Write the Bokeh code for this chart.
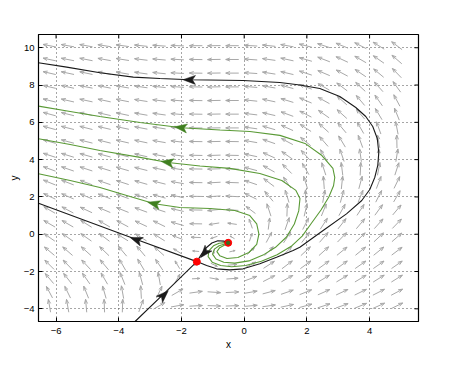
import numpy as np
from bokeh.plotting import figure
from bokeh.models import FixedTicker
from bokeh.embed import file_html
from bokeh.resources import INLINE

# ---------------- data ----------------
x_ticks = [-6, -4, -2, 0, 2, 4]
y_ticks = [-4, -2, 0, 2, 4, 6, 8, 10]

eq_x = [-1.51, -0.51]
eq_y = [-1.47, -0.46]

stable_low_x = [-3.48, -2.50, -1.51]
stable_low_y = [-4.68, -3.09, -1.47]

stable_up_x = [-0.51, -0.65, -0.84, -1.03, -1.20, -1.35, -1.51]
stable_up_y = [-0.46, -0.37, -0.35, -0.47, -0.71, -1.04, -1.47]

unstable_left_x = [-1.51, -3.50, -6.56]
unstable_left_y = [-1.47, -0.24, 1.66]

unstable_right_x = [-1.507, -1.198, -0.880, -0.456, -0.032, 0.500, 1.033, 1.561, 1.775, 2.518,
                    3.263, 3.751, 4.006, 4.165, 4.261, 4.293, 4.245, 4.101, 3.878, 3.560,
                    3.050, 2.412, 1.775, 1.138, -0.032, -1.730, -2.686, -3.537, -4.599,
                    -5.660, -6.565]
unstable_right_y = [-1.465, -1.679, -1.856, -1.910, -1.856, -1.588, -1.234, -0.874, -0.697, 0.198,
                    1.094, 1.808, 2.398, 3.042, 3.686, 4.383, 5.134, 5.778, 6.314, 6.797,
                    7.388, 7.817, 8.004, 8.138, 8.246, 8.283, 8.353, 8.423, 8.659,
                    8.959, 9.195]

g1_x = [-6.56, -5.55, -4.60, -3.32, -2.00, -0.77, 0.18, 1.14, 1.94, 2.48, 2.83, 2.89,
        2.85, 2.70, 2.45, 2.15, 1.85, 1.50, 1.05, 0.55, 0.05, -0.40, -0.75, -1.02,
        -1.15, -1.12, -0.98, -0.80, -0.62, -0.51]
g1_y = [6.87, 6.58, 6.31, 5.99, 5.71, 5.59, 5.51, 5.30, 4.87, 4.22, 3.53, 3.04,
        2.60, 2.00, 1.30, 0.60, -0.10, -0.65, -1.10, -1.45, -1.68, -1.74, -1.68, -1.50,
        -1.20, -0.88, -0.62, -0.48, -0.45, -0.46]
g2_x = [-6.56, -5.55, -4.60, -3.32, -2.43, -1.41, -0.46, 0.50, 1.20, 1.65, 1.78, 1.74,
        1.60, 1.35, 1.00, 0.60, 0.15, -0.30, -0.65, -0.90, -1.01, -0.95, -0.80, -0.62, -0.51]
g2_y = [5.12, 4.81, 4.49, 4.12, 3.85, 3.66, 3.53, 3.26, 2.88, 2.35, 1.92, 1.25,
        0.55, -0.15, -0.70, -1.12, -1.43, -1.55, -1.50, -1.33, -1.07, -0.80, -0.62, -0.52, -0.46]
g3_x = [-6.56, -5.55, -4.60, -3.64, -2.86, -2.05, -1.09, -0.30, 0.18, 0.40, 0.47, 0.40,
        0.15, -0.20, -0.55, -0.78, -0.87, -0.78, -0.62, -0.51]
g3_y = [3.24, 2.88, 2.51, 2.02, 1.63, 1.43, 1.38, 1.27, 1.00, 0.55, 0.00, -0.55,
        -0.98, -1.25, -1.30, -1.15, -0.93, -0.72, -0.58, -0.46]

# trajectory arrow marks: position and direction (data units)
black_arrow_x = [-2.58, -1.25, -3.43, -1.73]
black_arrow_y = [-3.29, -0.97, -0.30, 8.28]
black_arrow_dx = [1.0, -0.5, -1.0, -1.0]
black_arrow_dy = [1.65, -1.0, 0.62, 0.02]
green_arrow_x = [-2.00, -2.43, -2.86]
green_arrow_y = [5.71, 3.85, 1.63]
green_arrow_dx = [-1.0, -1.0, -1.0]
green_arrow_dy = [0.22, 0.26, 0.40]

# direction field: arrow centres and the direction (degrees) read at each one
field_x = [-6.21, -5.63, -5.04, -4.46, -3.88, -3.29, -2.71, -2.13, -1.54, -0.96,
           -0.38, 0.21, 0.79, 1.37, 1.96, 2.54, 3.12, 3.71, 4.29, 4.87]
field_y = [-3.84, -3.11, -2.38, -1.64, -0.91, -0.17, 0.56, 1.30, 2.03, 2.77,
           3.50, 4.23, 4.97, 5.70, 6.44, 7.17, 7.90, 8.64, 9.37, 10.11]
field_angle_deg = [  # one row per field_y value, bottom to top
    [100, 100, 95, 92, 88, 70, 30, 10, 3, -2, 2, 5, 8, 12, 15, 18, 20, 22, 24, 26],
    [118, 116, 112, 106, 100, 93, 65, 30, 8, -4, 3, 10, 15, 19, 22, 24, 25, 26, 27, 28],
    [130, 128, 125, 120, 112, 105, 100, 60, 3, -10, 4, 20, 27, 29, 30, 31, 31, 31, 32, 32],
    [135, 134, 133, 130, 120, 121, 124, 121, 17, -25, 5, 28, 33, 37, 36, 36, 36, 35, 35, 35],
    [140, 139, 138, 136, 130, 130, 138, 148, 175, 260, 14, 43, 46, 46, 43, 42, 39, 39, 39, 37],
    [145, 145, 145, 143, 148, 148, 148, 159, 178, 198, 150, 71, 62, 57, 53, 49, 46, 44, 43, 41],
    [150, 150, 148, 150, 152, 155, 154, 164, 179, 189, 172, 109, 83, 71, 63, 57, 52, 50, 48, 46],
    [150, 152, 155, 157, 158, 160, 162, 167, 179, 186, 176, 143, 108, 88, 77, 68, 61, 57, 54, 50],
    [155, 157, 158, 159, 160, 162, 164, 168, 179, 184, 177, 154, 130, 107, 91, 80, 75, 68, 63, 60],
    [158, 159, 160, 161, 162, 164, 166, 170, 179, 183, 178, 161, 143, 124, 107, 94, 84, 75, 69, 64],
    [160, 161, 162, 163, 164, 166, 168, 171, 179, 182, 178, 165, 151, 135, 120, 108, 97, 87, 79, 72],
    [162, 163, 164, 165, 166, 167, 169, 172, 179, 182, 179, 168, 156, 145, 132, 120, 109, 98, 89, 81],
    [164, 165, 166, 166, 167, 168, 170, 173, 179, 181, 179, 170, 161, 152, 141, 131, 121, 110, 100, 91],
    [165, 166, 166, 167, 168, 169, 171, 174, 179, 181, 180, 172, 164, 156, 147, 138, 130, 120, 110, 101],
    [165, 166, 167, 167, 168, 170, 172, 175, 179, 181, 180, 173, 167, 160, 153, 145, 138, 130, 121, 112],
    [166, 167, 168, 168, 169, 171, 173, 176, 179, 181, 180, 174, 168, 163, 157, 151, 138, 130, 125, 118],
    [167, 168, 169, 169, 170, 172, 174, 176, 179, 181, 180, 175, 170, 165, 160, 150, 143, 137, 132, 126],
    [167, 168, 168, 169, 170, 172, 174, 177, 179, 181, 180, 176, 171, 167, 162, 157, 152, 146, 140, 134],
    [168, 169, 169, 170, 171, 173, 175, 177, 179, 181, 180, 176, 172, 168, 164, 159, 155, 150, 145, 139],
    [169, 170, 170, 171, 172, 174, 176, 178, 180, 181, 180, 177, 174, 170, 166, 162, 158, 153, 148, 143],
]
# relative arrow length (1 = full); shorter arrows near the two equilibria
field_rel_length = [
    [1] * 20,
    [1] * 20,
    [1, 1, 1, 1, 1, 1, 1, .8, .6, .7, .9, 1, 1, 1, 1, 1, 1, 1, 1, 1],
    [1, 1, 1, 1, 1, 1, 1, .7, .35, .55, .7, .9, 1, 1, 1, 1, 1, 1, 1, 1],
    [1, 1, 1, 1, 1, 1, 1, .7, .5, .4, .45, .75, .95, 1, 1, 1, 1, 1, 1, 1],
    [1, 1, 1, 1, 1, 1, 1, .85, .75, .55, .4, .65, .9, 1, 1, 1, 1, 1, 1, 1],
    [1, 1, 1, 1, 1, 1, 1, 1, .95, .8, .7, .75, .9, 1, 1, 1, 1, 1, 1, 1],
    [1, 1, 1, 1, 1, 1, 1, 1, 1, 1, .95, .9, 1, 1, 1, 1, 1, 1, 1, 1],
] + [[1] * 20 for _ in range(12)]

# ---------------- figure ----------------
X_RANGE = (-6.56, 5.56)
Y_RANGE = (-4.68, 10.71)
FW, FH = 380, 287
PXX = FW / (X_RANGE[1] - X_RANGE[0])
PXY = FH / (Y_RANGE[1] - Y_RANGE[0])
ARROW_PX = 13.0

p = figure(frame_width=FW, frame_height=FH, x_range=X_RANGE, y_range=Y_RANGE,
           output_backend="svg", toolbar_location=None,
           min_border_left=38, min_border_right=43, min_border_top=34, min_border_bottom=49,
           background_fill_color="white", border_fill_color="white")
p.outline_line_color = "black"
p.outline_line_width = 1.2

FONT = "Liberation Sans"
for ax in (p.xaxis[0], p.yaxis[0]):
    ax.major_tick_in = 4
    ax.major_tick_out = 0
    ax.minor_tick_line_color = None
    ax.axis_line_color = "black"
    ax.major_tick_line_color = "black"
    ax.major_label_text_font = FONT
    ax.major_label_text_font_size = "9.5px"
    ax.major_label_text_color = "black"
    ax.axis_label_text_font = FONT
    ax.axis_label_text_font_size = "10px"
    ax.axis_label_text_font_style = "normal"
    ax.axis_label_text_color = "black"
p.xaxis.ticker = FixedTicker(ticks=x_ticks)
p.yaxis.ticker = FixedTicker(ticks=y_ticks)
p.xaxis.axis_label = "x"
p.yaxis.axis_label = "y"
p.xaxis.major_label_standoff = 6
p.yaxis.major_label_standoff = 4
p.xaxis.axis_label_standoff = 2
p.yaxis.axis_label_standoff = 1

# inward ticks on the top and right edges of the box
p.ray(x=x_ticks, y=[Y_RANGE[1]] * len(x_ticks), length=4, length_units="screen",
      angle=-np.pi / 2, line_color="black", line_width=1)
p.ray(x=[X_RANGE[1]] * len(y_ticks), y=y_ticks, length=4, length_units="screen",
      angle=np.pi, line_color="black", line_width=1)

p.xgrid.ticker = FixedTicker(ticks=x_ticks)
p.ygrid.ticker = FixedTicker(ticks=y_ticks)
for g in (p.xgrid[0], p.ygrid[0]):
    g.grid_line_color = "#4d4d4d"
    g.grid_line_dash = "1 3"
    g.grid_line_width = 1

# ---- direction field ----
fxs, fys = [], []
for gy, angs, lens in zip(field_y, field_angle_deg, field_rel_length):
    for gx, a, rl in zip(field_x, angs, lens):
        L = ARROW_PX * rl
        ang = np.deg2rad(a)
        ux, uy = np.cos(ang), np.sin(ang)
        t0x, t0y = -0.5 * L * ux, -0.5 * L * uy
        tx, ty = 0.5 * L * ux, 0.5 * L * uy
        hb, hw = 0.33 * L, 0.12 * L
        h1 = (tx - hb * ux - hw * uy, ty - hb * uy + hw * ux)
        h2 = (tx - hb * ux + hw * uy, ty - hb * uy - hw * ux)
        fxs.append([gx + t0x / PXX, gx + tx / PXX]); fys.append([gy + t0y / PXY, gy + ty / PXY])
        fxs.append([gx + h1[0] / PXX, gx + tx / PXX, gx + h2[0] / PXX])
        fys.append([gy + h1[1] / PXY, gy + ty / PXY, gy + h2[1] / PXY])
p.multi_line(fxs, fys, line_color="#a8a8a8", line_width=1)

# ---- trajectories ----
BLACK = "#1a1a1a"
GREEN = "#5a9a36"
for xs, ys in ((g1_x, g1_y), (g2_x, g2_y), (g3_x, g3_y)):
    p.line(xs, ys, line_color=GREEN, line_width=1.1)
for xs, ys in ((stable_low_x, stable_low_y), (stable_up_x, stable_up_y),
               (unstable_left_x, unstable_left_y), (unstable_right_x, unstable_right_y)):
    p.line(xs, ys, line_color=BLACK, line_width=1.1)


def heads(ax_, ay_, dx_, dy_):
    pxs, pys = [], []
    for x0, y0, dx, dy in zip(ax_, ay_, dx_, dy_):
        sx, sy = dx * PXX, dy * PXY
        n = np.hypot(sx, sy)
        ux, uy = sx / n, sy / n
        pts = [(7, 0), (-5.5, 4.5), (-2.5, 0), (-5.5, -4.5)]
        xs, ys = [], []
        for a, b in pts:
            xs.append(x0 + (a * ux - b * uy) / PXX)
            ys.append(y0 + (a * uy + b * ux) / PXY)
        pxs.append(xs); pys.append(ys)
    return pxs, pys


bx, by = heads(black_arrow_x, black_arrow_y, black_arrow_dx, black_arrow_dy)
p.patches(bx, by, fill_color=BLACK, line_color=BLACK, line_width=0.5)
gx_, gy_ = heads(green_arrow_x, green_arrow_y, green_arrow_dx, green_arrow_dy)
p.patches(gx_, gy_, fill_color="#3f7f1f", line_color="#3f7f1f", line_width=0.5)

p.scatter(eq_x, eq_y, size=7, fill_color="#ff0000", line_color="#ff0000")
p.scatter([eq_x[1]], [eq_y[1]], size=3.5, fill_color="#3d6b1f", line_color="#3d6b1f")

open("out.html", "w").write(file_html(p, INLINE))
